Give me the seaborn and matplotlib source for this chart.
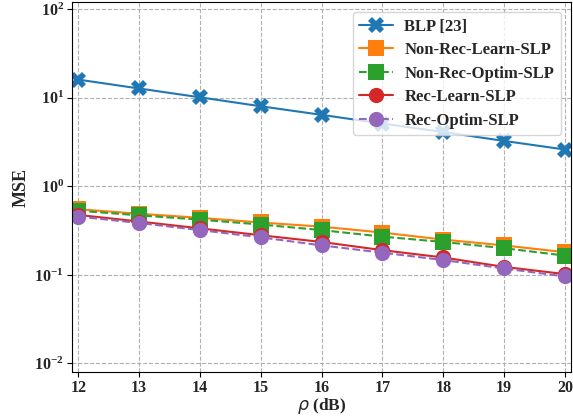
import numpy as np
import pandas as pd
import matplotlib
matplotlib.use("Agg")
import matplotlib.pyplot as plt
import seaborn as sns
from matplotlib.ticker import LogLocator, NullLocator

p_db = [12, 13, 14, 15, 16, 17, 18, 19, 20]
blp = [16.0, 12.7, 10.1, 8.0, 6.4, 5.1, 4.1, 3.25, 2.6]
non_rec_learn = [0.55, 0.49, 0.44, 0.39, 0.35, 0.30, 0.25, 0.215, 0.18]
non_rec_optim = [0.53, 0.47, 0.42, 0.37, 0.32, 0.27, 0.235, 0.20, 0.165]
rec_learn = [0.475, 0.40, 0.335, 0.28, 0.235, 0.19, 0.157, 0.123, 0.102]
rec_optim = [0.455, 0.385, 0.32, 0.265, 0.215, 0.178, 0.147, 0.118, 0.096]

labels = ["BLP [23]", "Non-Rec-Learn-SLP", "Non-Rec-Optim-SLP", "Rec-Learn-SLP", "Rec-Optim-SLP"]
series = [blp, non_rec_learn, non_rec_optim, rec_learn, rec_optim]
markers = ["X", "s", "s", "o", "o"]
dashes = ["-", "-", "--", "-", "--"]

sns.set_style("ticks")
plt.rcParams["font.family"] = ["Liberation Serif", "DejaVu Serif"]
plt.rcParams["font.weight"] = "bold"
plt.rcParams["mathtext.fontset"] = "custom"
plt.rcParams["mathtext.rm"] = "Liberation Serif:style=normal:weight=bold"
plt.rcParams["mathtext.it"] = "DejaVu Sans:style=italic:weight=normal"
plt.rcParams["mathtext.bf"] = "Liberation Serif:style=normal:weight=bold"

colors = sns.color_palette("tab10")

fig = plt.figure(figsize=(5.73, 4.18), dpi=100)
ax = fig.add_axes([0.126, 0.110, 0.8705, 0.885])

for i, (lab, ys) in enumerate(zip(labels, series)):
    df = pd.DataFrame({"p": p_db, "mse": ys})
    sns.lineplot(data=df, x="p", y="mse", ax=ax, color=colors[i], marker=markers[i],
                 markersize=11, linestyle=dashes[i], linewidth=1.5, label=lab,
                 markeredgewidth=0)

ax.set_yscale("log")
ax.set_ylim(0.008, 120)
ax.set_xlim(11.9, 20.1)
ax.set_xticks(p_db)
ax.yaxis.set_major_locator(LogLocator(base=10, numticks=10))
ax.yaxis.set_minor_locator(NullLocator())
ax.grid(True, which="major", linestyle="--", color="#b0b0b0", linewidth=0.8)
for s in ax.spines.values():
    s.set_visible(True)
    s.set_color("black")
ax.tick_params(labelsize=11.5, direction="out", length=3.5, color="black", pad=2.5)
for t in ax.get_xticklabels() + ax.get_yticklabels():
    t.set_fontweight("bold")
ax.set_xlabel(r"$\rho$ $\mathbf{(dB)}$", fontsize=12.5, fontweight="normal", labelpad=0)
ax.set_ylabel("MSE", fontsize=13, fontweight="bold", labelpad=3)
leg = ax.legend(loc="upper right", prop={"weight": "bold", "size": 12}, frameon=True,
                framealpha=0.8, borderaxespad=0.6, handlelength=2.0, labelspacing=0.45,
                handletextpad=0.7)

fig.savefig("out.png", dpi=100)
